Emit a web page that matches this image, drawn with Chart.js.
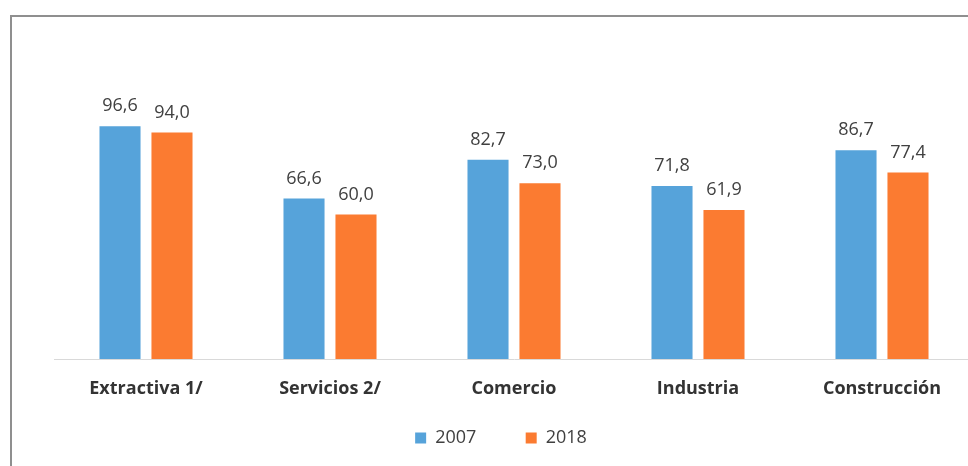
<!DOCTYPE html>
<html lang="es">
<head>
    <meta charset="UTF-8">
    <title>2007 vs 2018 por sector</title>
    <script src="https://cdn.jsdelivr.net/npm/chart.js"></script>
    <style>
        html, body {
            margin: 0;
            padding: 0;
            width: 968px;
            height: 466px;
            overflow: hidden;
            background: #ffffff;
        }
        .frame {
            position: absolute;
            left: 10px;
            top: 15px;
            width: 1100px;
            height: 600px;
            border: 2px solid #8f8f8f;
        }
        #chartBox {
            position: absolute;
            left: 0;
            top: 0;
            width: 994px;
            height: 457px;
        }
    </style>
</head>
<body>
    <div class="frame"></div>
    <div id="chartBox">
        <canvas id="sectorChart" width="994" height="457"></canvas>
    </div>

    <script>
        // data
        const sectors = ['Extractiva 1/', 'Servicios 2/', 'Comercio', 'Industria', 'Construcción'];
        const values2007 = [96.6, 66.6, 82.7, 71.8, 86.7];
        const values2018 = [94.0, 60.0, 73.0, 61.9, 77.4];
        const seriesNames = ['2007', '2018'];

        const blue = '#56A3DA';
        const orange = '#FB7B31';
        const textColor = '#404040';

        // value labels above each bar, decimal comma
        const barLabels = {
            id: 'barLabels',
            afterDatasetsDraw(chart) {
                const ctx = chart.ctx;
                ctx.save();
                ctx.font = '18px "Open Sans"';
                ctx.fillStyle = textColor;
                ctx.textAlign = 'center';
                ctx.textBaseline = 'alphabetic';
                chart.data.datasets.forEach((ds, i) => {
                    chart.getDatasetMeta(i).data.forEach((bar, j) => {
                        const txt = ds.data[j].toFixed(1).replace('.', ',');
                        ctx.fillText(txt, bar.x, bar.y - 15);
                    });
                });
                ctx.restore();
            }
        };

        const ctx = document.getElementById('sectorChart').getContext('2d');
        const sectorChart = new Chart(ctx, {
            type: 'bar',
            data: {
                labels: sectors,
                datasets: [{
                    label: seriesNames[0],
                    data: values2007,
                    backgroundColor: blue
                }, {
                    label: seriesNames[1],
                    data: values2018,
                    backgroundColor: orange
                }]
            },
            options: {
                responsive: false,
                animation: false,
                categoryPercentage: 0.565,
                barPercentage: 0.79,
                layout: {
                    padding: { left: 28, right: 20, top: 70, bottom: 0 }
                },
                scales: {
                    x: {
                        grid: { display: false, drawTicks: false },
                        border: { display: true, color: '#d9d9d9', width: 1 },
                        ticks: {
                            padding: 19,
                            color: '#333333',
                            font: { family: 'Open Sans', size: 18, weight: 'bold' }
                        },
                        afterFit(scale) { scale.height = 44; }
                    },
                    y: {
                        min: 0,
                        max: 120,
                        grid: { display: false, drawTicks: false },
                        border: { display: false },
                        ticks: { display: false },
                        afterFit(scale) { scale.width = 26; }
                    }
                },
                plugins: {
                    tooltip: { enabled: false },
                    legend: {
                        position: 'bottom',
                        labels: {
                            boxWidth: 11,
                            boxHeight: 11,
                            padding: 26,
                            color: textColor,
                            font: { family: 'Open Sans', size: 18 },
                            // a little extra room after the first entry, as in the original
                            generateLabels(chart) {
                                const items = Chart.defaults.plugins.legend.labels.generateLabels(chart);
                                items[0].text += '     ';
                                return items;
                            }
                        }
                    }
                }
            },
            plugins: [barLabels]
        });
    </script>
</body>
</html>
